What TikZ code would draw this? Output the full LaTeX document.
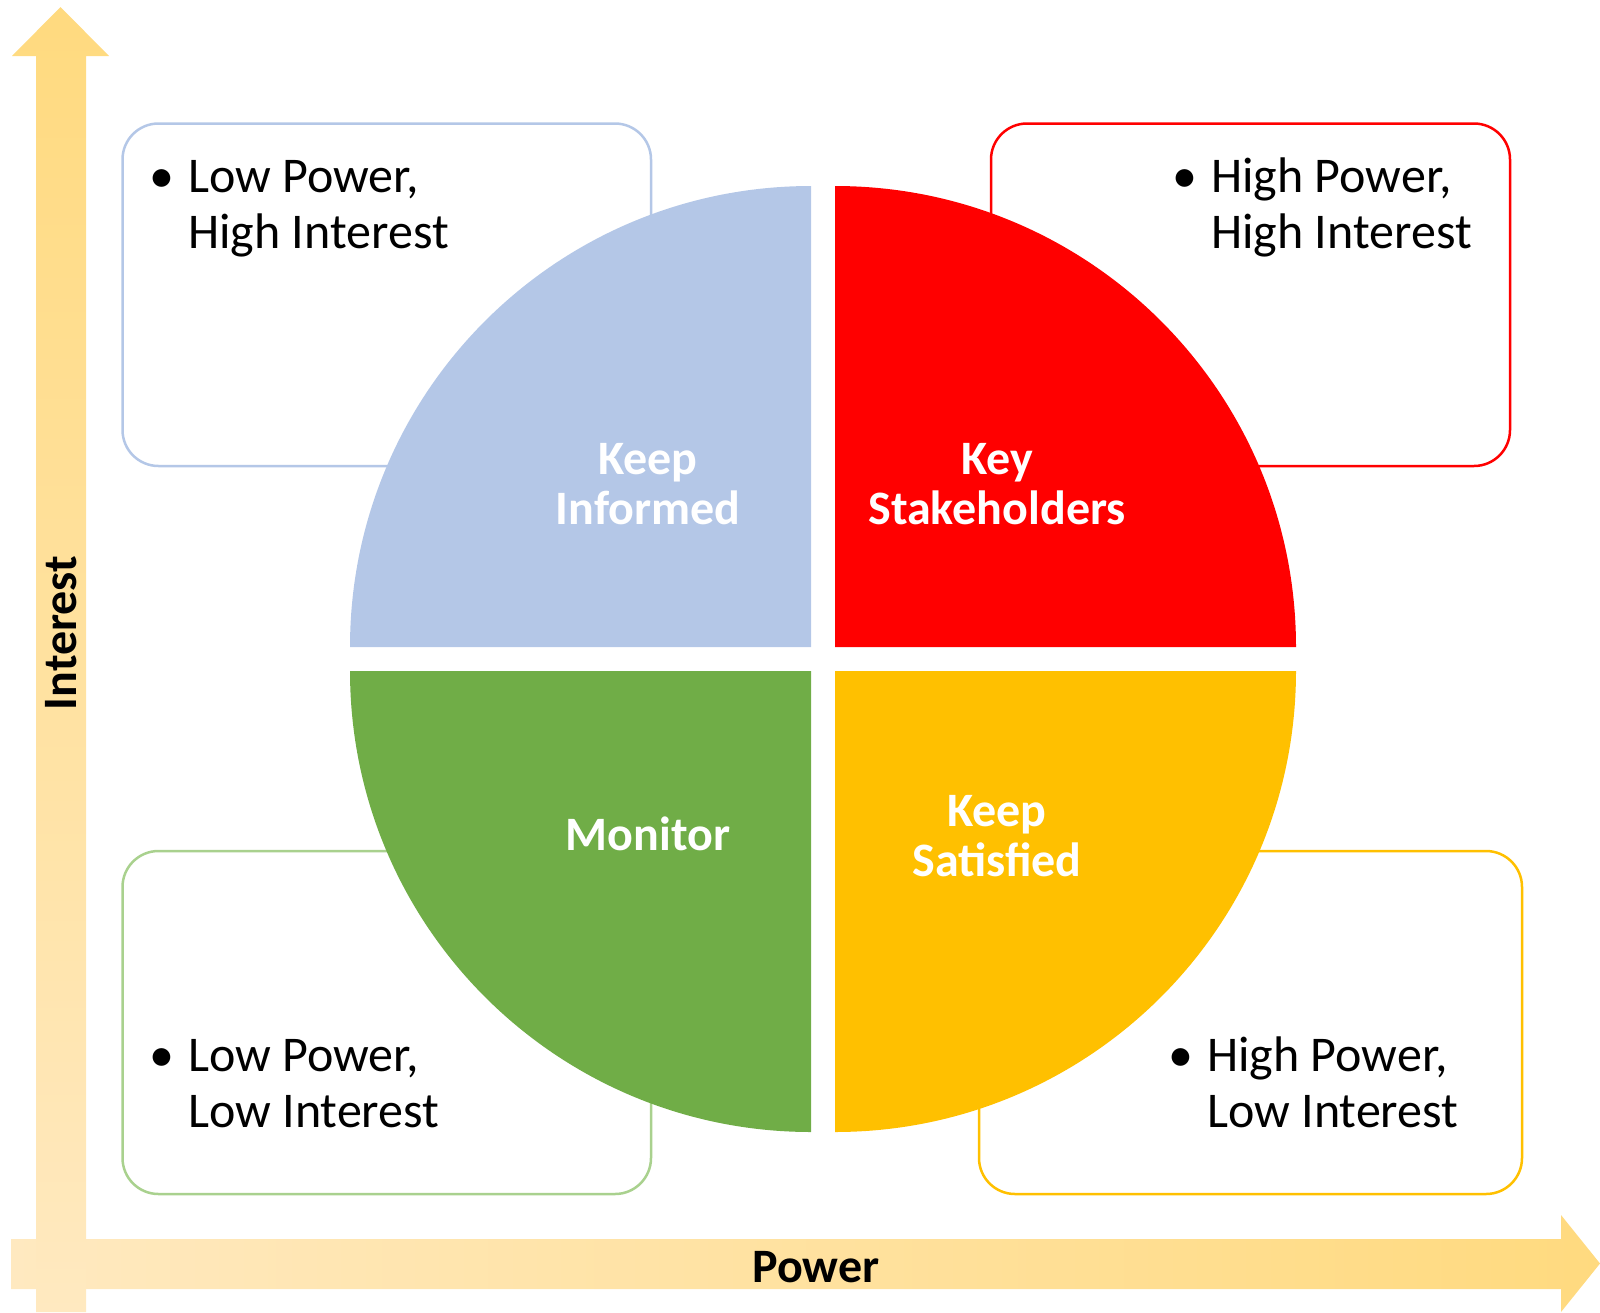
\documentclass[tikz,border=0pt]{standalone}
\usepackage{fontspec}
\setmainfont{Carlito}
\definecolor{qblue}{HTML}{B4C7E7}
\definecolor{qred}{HTML}{FF0000}
\definecolor{qgreen}{HTML}{70AD47}
\definecolor{qgold}{HTML}{FFC000}
\definecolor{lgreen}{HTML}{A9D18E}
\definecolor{arrdark}{HTML}{FFDA7F}
\definecolor{arrlight}{HTML}{FFE9C0}
\tikzset{
  infobox/.style={line width=2.5pt, rounded corners=36pt, fill=white},
  qlabel/.style={text=white, font=\fontsize{48}{50}\selectfont\bfseries, align=center, inner sep=0pt, anchor=base},
  btext/.style={text=black, font=\fontsize{50}{56}\selectfont, align=left, inner sep=0pt, anchor=base west},
  axlabel/.style={text=black, font=\fontsize{48}{49}\selectfont\bfseries, inner sep=0pt, anchor=base},
}
\newcommand{\bul}{\llap{\makebox[52pt]{•}}}
\begin{document}
\begin{tikzpicture}[x=1pt,y=-1pt]
\useasboundingbox (0,0) rectangle (1600,1312);
% axes arrows
\shade[left color=arrlight, right color=arrdark]
  (11,1239) -- (1561,1239) -- (1561,1215) -- (1600,1263.5) -- (1561,1312) -- (1561,1289) -- (11,1289) -- cycle;
\shade[top color=arrdark, bottom color=arrlight]
  (36,1312) -- (36,56) -- (12,56) -- (60.5,7) -- (109,56) -- (86,56) -- (86,1312) -- cycle;
% boxes
\draw[infobox, draw=qblue]  (122.5,123.5) rectangle (651,466);
\draw[infobox, draw=qred]   (991,123.5) rectangle (1510,466);
\draw[infobox, draw=lgreen] (122.5,851) rectangle (651,1194);
\draw[infobox, draw=qgold]  (979,851) rectangle (1522,1194);
% quadrants
\fill[qblue]  (811,647) -- (350,647) arc[start angle=180, end angle=270, radius=461] -- cycle;
\fill[qred]   (835,647) -- (835,186) arc[start angle=270, end angle=360, radius=461] -- cycle;
\fill[qgreen] (811,671) -- (350,671) arc[start angle=180, end angle=90, radius=461] -- cycle;
\fill[qgold]  (835,671) -- (1296,671) arc[start angle=0, end angle=90, radius=461] -- cycle;
% quadrant labels (anchor = baseline of last line)
\node[qlabel] (ki) at (648,524) {Keep\\Informed};
\node[qlabel] (ks) at (997,524) {Key\\Stakeholders};
\node[qlabel] (mo) at (648,850) {Monitor};
\node[qlabel] (sa) at (997,876) {Keep\\Satisfied};
% box texts
\node[btext] (t1) at (188,248) {\bul Low Power,\\High Interest};
\node[btext] (t2) at (1211,248) {\bul High Power,\\High Interest};
\node[btext] (t3) at (188,1127) {\bul Low Power,\\Low Interest};
\node[btext] (t4) at (1207,1127) {\bul High Power,\\Low Interest};
% axis labels
\node[axlabel] (pw) at (816,1282) {Power};
\node[axlabel, rotate=90] (in) at (76.5,633) {Interest};
\end{tikzpicture}
\end{document}
